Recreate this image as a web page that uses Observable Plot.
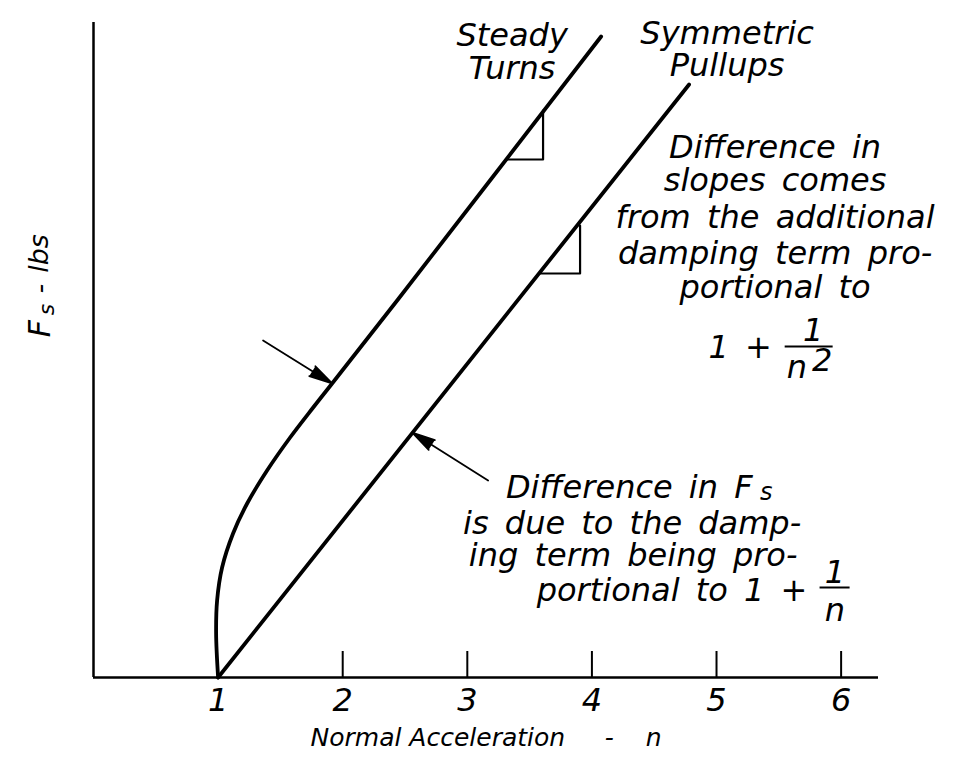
<!DOCTYPE html>
<html><head><meta charset="utf-8">
<script src="https://cdn.jsdelivr.net/npm/d3@7"></script>
<script src="https://cdn.jsdelivr.net/npm/@observablehq/plot@0.6"></script>
<style>
body{margin:0;background:#fff}
svg g[aria-label="text"] text{word-spacing:6px}
</style>
</head><body><div id="chart"></div>
<script>
// x axis: normal acceleration n
const xTicks = [1, 2, 3, 4, 5, 6];
const tickMarks = [2, 3, 4, 5, 6];
const xLabel = "Normal Acceleration\u00a0\u00a0\u00a0\u00a0\u00a0-\u00a0\u00a0\u00a0\u00a0n";

// y axis label pieces: F, subscript s, dash, lbs
const yLabText = ["F", "s", "-", "lbs"];
const yLabF = [3.49, 3.68, 3.89, 4.24];
const yLabSize = [30, 22, 27, 27];
const yLabShift = [0, 6, 0, -1];

// Symmetric pullups (straight line)
const pullN = [1.0, 4.78];
const pullF = [0.0, 5.93];

// Steady turns (curved start, then straight)
const turnN = [1.0, 0.984, 0.992, 1.032, 1.12, 1.233, 1.393, 1.578, 1.763, 1.915, 2.437, 4.074];
const turnF = [0.0, 0.44, 0.77, 1.10, 1.44, 1.74, 2.07, 2.40, 2.70, 2.94, 3.77, 6.41];

// slope triangles
const turnTriN = [3.319, 3.608, 3.608];
const turnTriF = [5.18, 5.18, 5.67];
const pullTriN = [3.584, 3.905, 3.905];
const pullTriF = [4.04, 4.04, 4.52];

// arrows (tail -> tip)
const arrowTailN = [1.361, 3.167];
const arrowTailF = [3.37, 1.97];
const arrowTipN = [1.915, 2.557];
const arrowTipF = [2.94, 2.45];

// annotation lines
const noteText = ["Steady", "Turns", "Symmetric", "Pullups",
  "Difference in", "slopes comes", "from the additional", "damping term pro-", "portional to", "1 +",
  "Difference in F", "is due to the damp-", "ing term being pro-", "portional to 1 +"];
const noteN = [3.36, 3.36, 5.085, 5.085, 5.47, 5.47, 5.47, 5.47, 5.47, 5.19, 4.30, 4.323, 4.331, 4.643];
const noteF = [6.32, 5.99, 6.34, 6.02, 5.20, 4.87, 4.50, 4.14, 3.80, 3.20, 1.80, 1.44, 1.12, 0.77];

// small pieces: fractions 1/n^2 and 1/n, subscript s of F
const fracText = ["1", "n", "2", "1", "n", "s"];
const fracN = [5.775, 5.646, 5.847, 5.95, 5.95, 5.40];
const fracF = [3.37, 3.00, 3.07, 0.95, 0.57, 1.78];
const fracSize = [32, 32, 32, 32, 32, 24];
const barN1 = [5.551, 5.831];
const barN2 = [5.936, 6.072];
const barF = [3.31, 0.90];

const turn = turnN.map((n, i) => ({n, F: turnF[i]}));
const pull = pullN.map((n, i) => ({n, F: pullF[i]}));
const turnTri = turnTriN.map((n, i) => ({n, F: turnTriF[i]}));
const pullTri = pullTriN.map((n, i) => ({n, F: pullTriF[i]}));
const arrows = arrowTailN.map((n, i) => ({x1: n, y1: arrowTailF[i], x2: arrowTipN[i], y2: arrowTipF[i]}));
const notes = noteText.map((t, i) => ({t, n: noteN[i], F: noteF[i]}));
const fracs = fracText.map((t, i) => ({t, n: fracN[i], F: fracF[i], s: fracSize[i]}));
const bars = barF.map((F, i) => ({F, n1: barN1[i], n2: barN2[i]}));
const yLab = yLabText.map((t, i) => ({t, F: yLabF[i], s: yLabSize[i], d: yLabShift[i]}));

const font = "DejaVu Sans";
const chart = Plot.plot({
  width: 957, height: 761,
  marginLeft: 93, marginRight: 79, marginTop: 22, marginBottom: 84,
  x: {domain: [0, 6.3]},
  y: {domain: [0, 6.55], axis: null},
  style: {fontFamily: font, background: "white", color: "black"},
  marks: [
    Plot.ruleY([0], {strokeWidth: 2.5}),
    Plot.ruleX([0], {strokeWidth: 2.5}),
    Plot.ruleX(tickMarks, {x: d => d, y1: 0, y2: 0.26, strokeWidth: 2}),
    Plot.axisX({ticks: xTicks, tickSize: 0, tickPadding: 11, fontSize: 32, fontStyle: "italic", label: null, tickFormat: d => String(d)}),
    Plot.axisX({ticks: [], label: xLabel, labelAnchor: "center", labelArrow: "none", labelOffset: 68, fontSize: 25, fontStyle: "italic"}),
    ...yLab.map(d => Plot.text([d], {x: () => 0, y: "F", text: "t", rotate: -90, fontSize: d.s, fontStyle: "italic", dx: -53 + d.d})),
    Plot.line(turn, {x: "n", y: "F", curve: "catmull-rom", strokeWidth: 3.8}),
    Plot.line(pull, {x: "n", y: "F", strokeWidth: 3.8}),
    Plot.line(turnTri, {x: "n", y: "F", strokeWidth: 2.2}),
    Plot.line(pullTri, {x: "n", y: "F", strokeWidth: 2.2}),
    Plot.arrow(arrows, {x1: "x1", y1: "y1", x2: "x2", y2: "y2", stroke: "black", fill: "black", headLength: 20, headAngle: 28, strokeWidth: 1.8}),
    Plot.text(notes, {x: "n", y: "F", text: "t", lineAnchor: "bottom", fontSize: 32, fontStyle: "italic"}),
    ...fracs.map(d => Plot.text([d], {x: "n", y: "F", text: "t", lineAnchor: "bottom", fontSize: d.s, fontStyle: "italic"})),
    Plot.ruleY(bars, {y: "F", x1: "n1", x2: "n2", strokeWidth: 2})
  ]
});
document.getElementById("chart").appendChild(chart);
</script>
</body></html>
